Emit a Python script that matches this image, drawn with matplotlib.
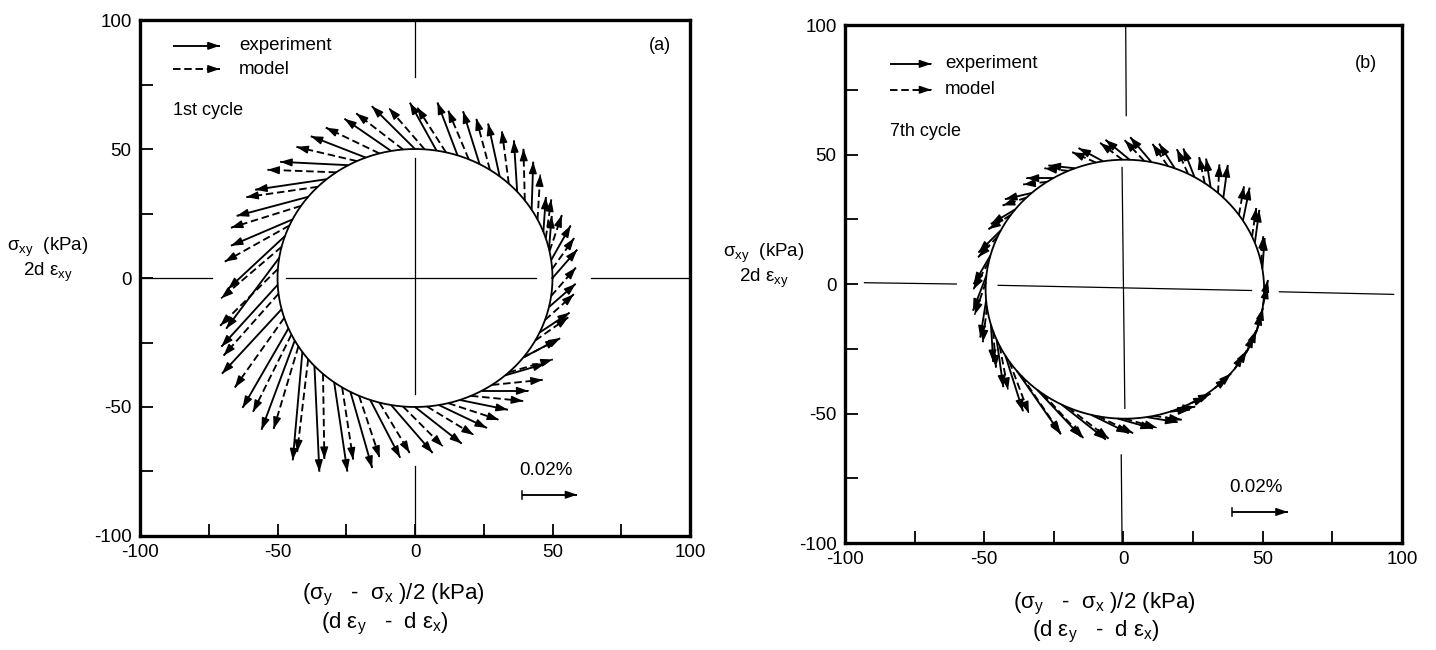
import numpy as np
import matplotlib
matplotlib.use("Agg")
import matplotlib.pyplot as plt
from matplotlib.ticker import FixedLocator

plt.rcParams['font.family'] = ['Liberation Sans', 'DejaVu Sans']
plt.rcParams['mathtext.fontset'] = 'custom'
plt.rcParams['mathtext.rm'] = 'Liberation Sans'
plt.rcParams['mathtext.it'] = 'Liberation Sans'

# ---------------- data ----------------
major_ticks = [-100, -50, 0, 50, 100]
minor_ticks = [-75, -25, 25, 75]
tick_labels = ['-100', '-50', '0', '50', '100']

# panel (a): 1st cycle  -- stress-point angle on circle (deg) and strain-increment vector (scaled)
a_exp_ang = [0, 8, 13, 21, 32, 42, 52, 62, 72, 81, 90, 100, 111, 119, 130, 141, 153, 161, 171,
             183, 194, 203, 209, 215, 223, 234, 242, 251, 260, 270, 280, 289, 299, 311, 322, 335, 347]
a_exp_dx = [9.0, 7.1, 1.0, 0.9, 0.6, -1.2, -4.2, -6.0, -7.3, -9.7, -15.7, -17.0, -20.0, -24.8, -26.0, -26.0, -22.4, -20.7, -19.3,
            -20.5, -21.7, -16.7, -12.1, -3.5, 1.8, 4.8, 7.9, 10.9, 15.1, 17.0, 17.5, 17.5, 17.0, 14.5, 12.5, 10.9, 9.7]
a_exp_dy = [11.0, 13.4, 12.8, 13.5, 18.6, 19.9, 20.5, 20.5, 20.5, 18.6, 16.6, 12.5, 8.3, 1.3, -4.1, -7.4, -10.2, -20.5, -27.5,
            -24.0, -25.0, -30.8, -34.6, -42.0, -41.0, -34.6, -29.5, -22.4, -18.6, -14.2, -8.9, -3.8, 0.0, 4.5, 7.0, 7.7, 9.0]

a_mod_ang = [4, 12, 18, 27, 37, 47, 57, 67, 77, 86, 95, 105, 115, 125, 135, 146, 156, 166, 176,
             187, 198, 206, 212, 219, 228, 238, 246, 255, 265, 275, 284, 294, 304, 313, 322, 331, 341, 352]
a_mod_dx = [8.0, 4.5, 2.0, 1.0, -0.5, -2.5, -5.0, -7.5, -10.5, -13.0, -17.0, -19.5, -22.0, -25.0, -26.0, -25.5, -23.5, -22.0, -21.0,
            -20.0, -18.0, -14.0, -9.0, -4.0, 0.5, 4.0, 7.5, 11.0, 14.5, 17.0, 18.5, 19.0, 18.5, 16.0, 13.5, 12.0, 10.5, 9.0]
a_mod_dy = [12.0, 14.0, 15.0, 17.5, 20.0, 20.5, 20.0, 19.0, 17.5, 16.0, 14.0, 10.0, 5.5, 1.0, -4.0, -8.5, -14.0, -20.0, -22.0,
            -24.0, -27.0, -30.0, -32.0, -36.0, -33.0, -28.0, -24.0, -19.5, -15.5, -11.0, -6.5, -2.0, 2.0, 5.0, 7.5, 9.0, 10.0, 11.0]

# panel (b): 7th cycle
b_exp_ang = [9, 21, 32, 45, 52, 60, 69, 79, 88, 99, 111, 121, 132, 142, 153, 165, 174, 185, 196, 203, 211,
             219, 231, 243, 256, 267, 279, 289, 298, 310, 322, 331, 341, 353]
b_exp_dx = [0.8, 1.6, 2.4, 1.6, -1.6, -4.0, -5.6, -7.6, -8.7, -8.8, -9.5, -9.5, -9.6, -8.7, -8.0, -6.0, -4.8, -2.1, 0.8, 2.4, 6.3,
            15.9, 15.8, 15.9, 13.5, 12.7, 11.1, 7.1, 5.6, 4.8, 3.1, 2.4, 1.6, 1.6]
b_exp_dy = [11.9, 12.7, 12.7, 12.6, 11.0, 11.0, 9.5, 9.6, 7.7, 5.1, 1.1, 0.0, -2.4, -5.6, -8.5, -11.0, -13.5, -14.3, -14.3, -18.3, -21.4,
            -24.6, -18.2, -13.5, -7.1, -3.9, -2.0, 0.8, 2.4, 4.0, 5.5, 6.4, 7.1, 7.1]

b_mod_ang = [12, 24, 35, 48, 55, 63, 72, 82, 91, 102, 114, 124, 135, 145, 156, 168, 177, 188, 199, 206, 214,
             222, 234, 246, 259, 270, 282, 292, 301, 313, 325, 334, 344, 356]
b_mod_dx = [0.8, 1.5, 1.8, 0.5, -2.0, -4.0, -5.5, -7.0, -8.0, -8.5, -8.5, -8.5, -8.5, -8.0, -7.0, -5.5, -4.0, -1.5, 1.0, 3.0, 7.0,
            14.0, 14.5, 14.5, 12.5, 11.5, 10.0, 6.5, 5.0, 4.0, 2.8, 2.2, 1.5, 1.5]
b_mod_dy = [10.0, 11.0, 11.0, 11.0, 10.0, 9.5, 8.5, 8.0, 6.5, 4.0, 1.0, -1.0, -3.0, -5.5, -8.0, -10.5, -12.5, -13.5, -14.0, -17.0, -20.0,
            -22.0, -17.0, -12.0, -6.5, -3.5, -1.5, 1.0, 2.5, 4.0, 5.0, 6.0, 6.5, 7.0]

# circle (stress path) centre and radius per panel
a_circle = (0.0, 0.0, 50.0)
b_circle = (0.5, -2.0, 50.0)

# axis cross-hair segments (gaps where arrows are)
a_hseg = [(-100, -74, 0, 0), (-47, 44, 0, 0), (64, 100, 0, 0)]
a_vseg = [(0, 0, 78, 100), (0, 0, -45, 46.5), (0, 0, -100, -73)]
b_hseg = [(-93, -60, 0.5, 0.0), (-45, 46, -0.5, -2.5), (56, 97, -3.0, -4.0)]
b_vseg = [(1.0, 0.8, 65, 100), (0.5, -0.5, -48, 45), (-0.5, -0.8, -100, -66)]

HEAD = '-|>,head_length=0.5,head_width=0.17'
ARROW_LW = 1.35


def arrow(ax, x0, y0, x1, y1, dashed=False, lw=ARROW_LW):
    ls = (0, (4.0, 2.0)) if dashed else '-'
    ax.plot([x0, x1], [y0, y1], color='black', lw=lw, ls=ls, solid_capstyle='butt')
    fx = x1 - 0.02 * (x1 - x0)
    fy = y1 - 0.02 * (y1 - y0)
    ax.annotate('', xy=(x1, y1), xytext=(fx, fy),
                arrowprops=dict(arrowstyle=HEAD, color='black', lw=1.0,
                                mutation_scale=14, shrinkA=0, shrinkB=0))


def panel(ax, circ, exp, mod, hseg, vseg, cycle_txt, tag, leg_y, cyc_y, lx0, lx1, tagpos,
          scale_y, xl_y, yl_x):
    cx, cy, r = circ
    t = np.linspace(0, 2 * np.pi, 400)
    ax.plot(cx + r * np.cos(t), cy + r * np.sin(t), color='black', lw=1.3)
    for (x0, x1, y0, y1) in hseg:
        ax.plot([x0, x1], [y0, y1], color='black', lw=0.9)
    for (x0, x1, y0, y1) in vseg:
        ax.plot([x0, x1], [y0, y1], color='black', lw=0.9)
    for (angs, dxs, dys), dashed in ((mod, True), (exp, False)):
        for a, dx, dy in zip(angs, dxs, dys):
            bx = cx + r * np.cos(np.radians(a))
            by = cy + r * np.sin(np.radians(a))
            arrow(ax, bx, by, bx + dx, by + dy, dashed=dashed)

    # legend
    arrow(ax, lx0, leg_y[0], lx1, leg_y[0], dashed=False)
    arrow(ax, lx0, leg_y[1], lx1, leg_y[1], dashed=True)
    ax.text(-64, leg_y[0], 'experiment', fontsize=13.5, va='center', ha='left')
    ax.text(-64, leg_y[1], 'model', fontsize=13.5, va='center', ha='left')
    ax.text(lx0, cyc_y, cycle_txt, fontsize=13, va='center', ha='left')
    ax.text(tagpos[0], tagpos[1], tag, fontsize=13, va='center', ha='center')

    # scale arrow
    ax.text(38, scale_y + 9.5, '0.02%', fontsize=13.5, va='center', ha='left')
    ax.plot([39, 39], [scale_y - 1.5, scale_y + 1.5], color='black', lw=1.1)
    arrow(ax, 39, scale_y, 59, scale_y, dashed=False)

    ax.set_xlim(-100, 100)
    ax.set_ylim(-100, 100)
    ax.xaxis.set_major_locator(FixedLocator(major_ticks))
    ax.yaxis.set_major_locator(FixedLocator(major_ticks))
    ax.xaxis.set_minor_locator(FixedLocator(minor_ticks))
    ax.yaxis.set_minor_locator(FixedLocator(minor_ticks))
    ax.set_xticklabels(tick_labels)
    ax.set_yticklabels(tick_labels)
    ax.tick_params(which='both', direction='in', length=9, width=1.3, labelsize=13.5, pad=6,
                   top=False, right=False)
    for s in ax.spines.values():
        s.set_linewidth(2.4)

    # axis labels
    ax.text(yl_x, 0.56, r'$\mathregular{σ_{xy}}$  (kPa)', transform=ax.transAxes,
            fontsize=13.5, ha='center', va='center')
    ax.text(yl_x, 0.51, r'2d $\mathregular{ε_{xy}}$', transform=ax.transAxes,
            fontsize=13.5, ha='center', va='center')
    ax.text(xl_y[2], xl_y[0], r'($\mathregular{σ_y}$   -  $\mathregular{σ_x}$ )/2 (kPa)', transform=ax.transAxes,
            fontsize=16, ha='center', va='center')
    ax.text(xl_y[3], xl_y[1], r'(d $\mathregular{ε_y}$   -  d $\mathregular{ε_x}$)', transform=ax.transAxes,
            fontsize=16, ha='center', va='center')


fig = plt.figure(figsize=(14.36, 6.5), dpi=100)
ax1 = fig.add_axes([0.0975, 0.1754, 0.3830, 0.7938])
ax2 = fig.add_axes([0.5884, 0.1646, 0.3879, 0.7969])

panel(ax1, a_circle, (a_exp_ang, a_exp_dx, a_exp_dy), (a_mod_ang, a_mod_dx, a_mod_dy),
      a_hseg, a_vseg, '1st cycle', '(a)', (90, 81), 65, -88, -71, (89, 90), -84,
      (-0.115, -0.171, 0.46, 0.445), -0.167)
panel(ax2, b_circle, (b_exp_ang, b_exp_dx, b_exp_dy), (b_mod_ang, b_mod_dx, b_mod_dy),
      b_hseg, b_vseg, '7th cycle', '(b)', (85, 75), 59, -84, -69, (87, 85), -88,
      (-0.118, -0.172, 0.465, 0.45), -0.145)

fig.savefig('out.png', dpi=100)
